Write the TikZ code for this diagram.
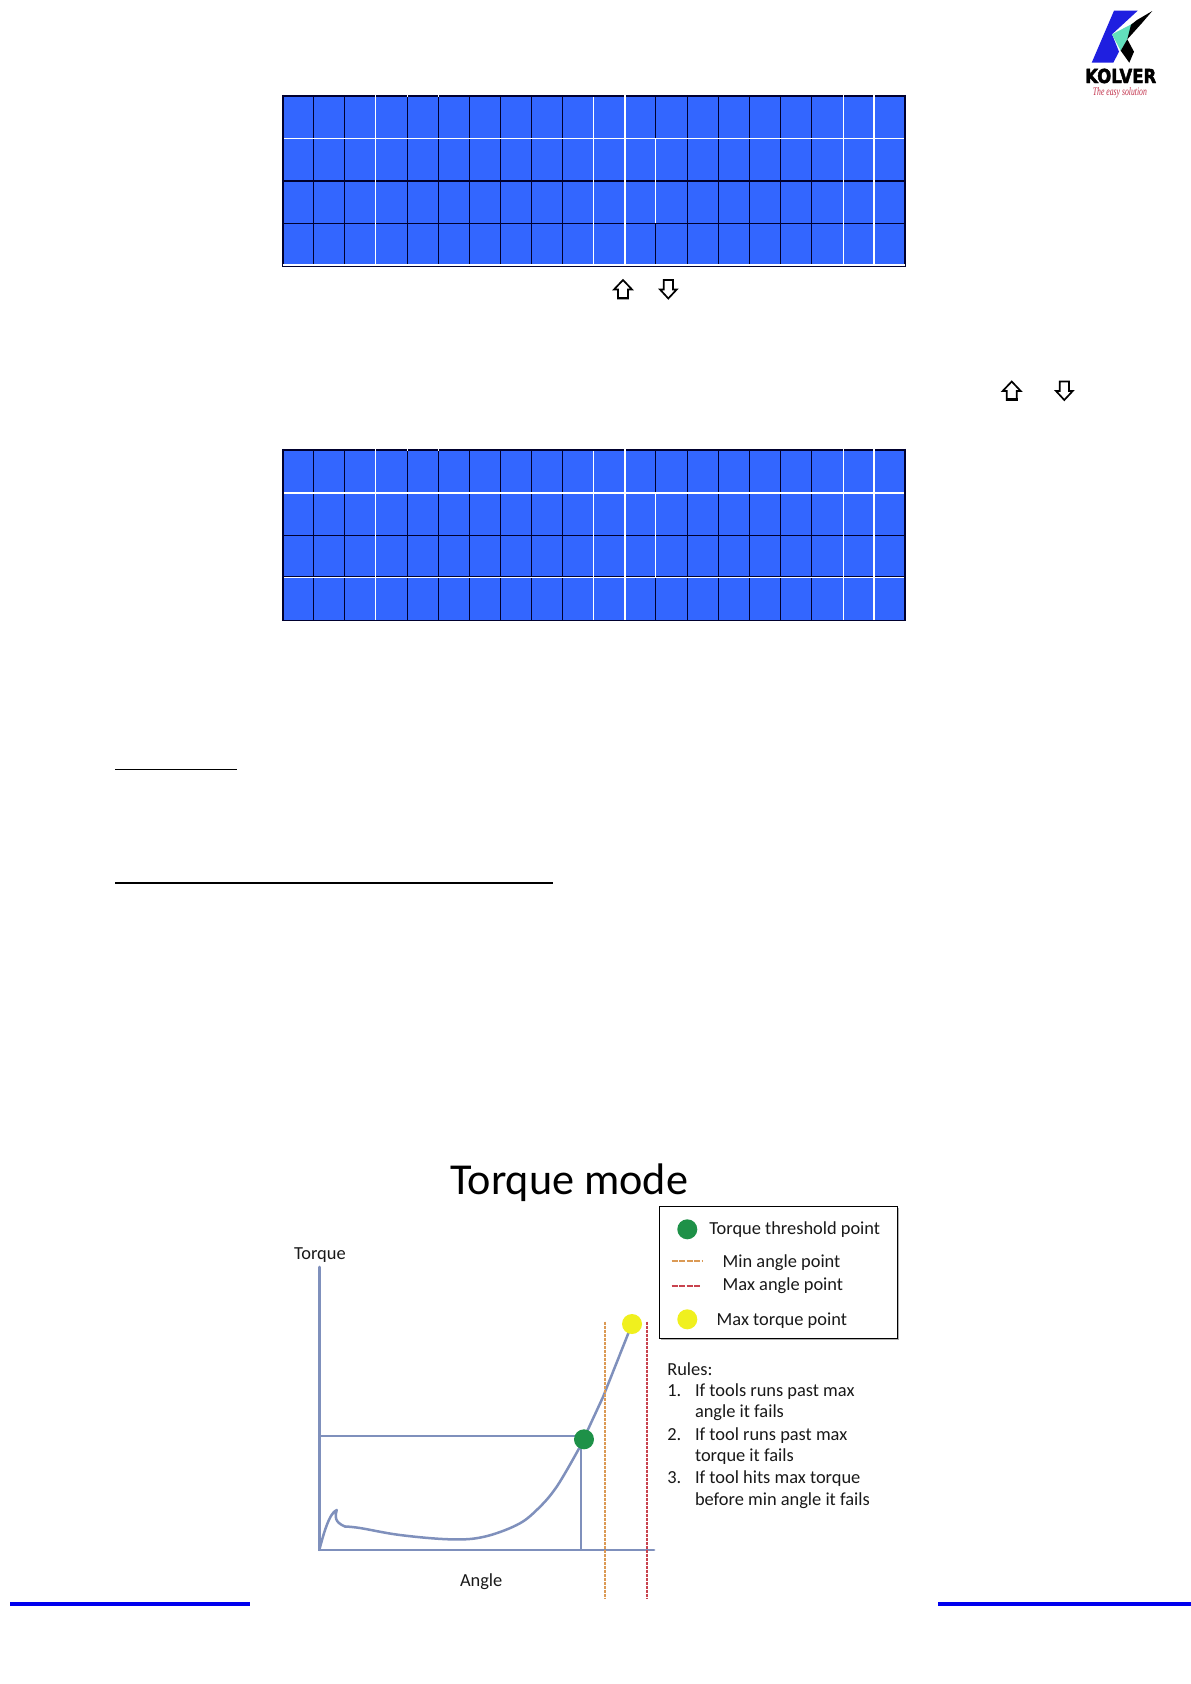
\documentclass[tikz,border=0pt]{standalone}
\usepackage{fontspec}
\usepackage{graphicx}
\setmainfont{Carlito}
\newfontfamily\logofont[BoldFeatures={FakeBold=2.5}]{DejaVu Sans}
\newfontfamily\sloganfont{Liberation Serif}
\definecolor{lcdblue}{HTML}{3366FF}
\definecolor{lcdline}{HTML}{00002E}
\definecolor{axisblue}{HTML}{7F90BC}
\definecolor{dotgreen}{HTML}{1E9148}
\definecolor{dotyellow}{HTML}{F0F01E}
\definecolor{minorange}{HTML}{DB9A55}
\definecolor{maxred}{HTML}{C8434E}
\definecolor{rulerblue}{HTML}{0000EE}
\definecolor{logoblue}{HTML}{1F1FE0}
\definecolor{logoteal}{HTML}{62E0BC}
\definecolor{slogan}{HTML}{C2304A}
\tikzset{
  lcdblack/.style={draw=lcdline,line width=1.1pt},
  lcdwhite/.style={draw=white,line width=1.2pt},
  lcdedge/.style={draw=lcdline,line width=1.8pt},
  arrowmark/.style={draw=black,line width=1.7pt,fill=white,line join=miter},
  axisline/.style={draw=axisblue,line width=2.8pt,line cap=round},
  guideline/.style={draw=axisblue,line width=2pt},
  curveline/.style={draw=axisblue,line width=2.5pt,line join=round,line cap=round},
  mindash/.style={draw=minorange,line width=2.2pt,dash pattern=on 3pt off 1pt},
  maxdash/.style={draw=maxred,line width=2.2pt,dash pattern=on 3pt off 1pt},
  figtext/.style={anchor=base west,inner sep=0pt,outer sep=0pt,font=\fontsize{18.4}{22}\selectfont,text=black!90},
  greendot/.style={circle,fill=dotgreen,inner sep=0pt,minimum size=20pt},
  yellowdot/.style={circle,fill=dotyellow,inner sep=0pt,minimum size=20pt},
  ruler/.style={draw=rulerblue,line width=3.6pt},
  underl/.style={draw=black}
}
\newcommand{\lcdgrid}[7]{%
  \fill[lcdblue] (282.7,#1) rectangle (904.7,#5);
  \foreach \vx in {313.3,344.3,375.7,407.3,438.7,469.7,500.3,531.3,562.3,593.7,625,655.7,687.3,718.3,749.3,780.3,811.3,843.3,874}
    \draw[lcdblack] (\vx,#1) -- (\vx,#5);
  \draw[lcdblack] (282.7,#3) -- (904.7,#3);
  #6
  \foreach \vx in {375.7,593.7,625,843.3,874}
    \draw[lcdwhite] (\vx,#1-1.5) -- (\vx,#5);
  \draw[lcdwhite,line width=.9pt] (655.7,#2) -- (655.7,#4);
  \draw[lcdedge] (282.7,#1) -- (904.7,#1);
  \foreach \vx in {375.7,407.3,438.7,625,843.3,874}
    \draw[lcdwhite] (\vx,#1-1.5) -- (\vx,#1+1);
  \draw[lcdedge] (282.7,#1-.9) -- (282.7,#5+.9);
  \draw[lcdedge,line width=2.2pt] (904.7,#1-.9) -- (904.7,#5+.9);
  #7
}
\newcommand{\uparrowmark}[2]{%
  \draw[arrowmark,shift={(#1,#2)}] (9,0) -- (18,9.5) -- (14,9.5) -- (14,18.5) -- (4,18.5) -- (4,9.5) -- (0,9.5) -- cycle;
  \draw[draw=black,line width=2.4pt,shift={(#1,#2)}] (3.2,18) -- (14.8,18);
}
\newcommand{\downarrowmark}[2]{%
  \draw[arrowmark,shift={(#1,#2)}] (3.7,0) -- (13,0) -- (13,9.5) -- (16.7,9.5) -- (8.3,18.5) -- (0,9.5) -- (3.7,9.5) -- cycle;
}
\begin{document}
\begin{tikzpicture}[x=1pt,y=-1pt]
\useasboundingbox (0,0) rectangle (1191,1684);
\fill[white] (0,0) rectangle (1191,1684);

% logo
\fill[logoblue] (1114,10.7) -- (1137.7,10.7) -- (1112,34.3) -- (1119,51.7) -- (1113.3,62.7) -- (1091.7,62.7) -- cycle;
\fill[logoteal] (1112,34.3) -- (1133.3,23.3) -- (1127.3,39.3) -- (1120.7,50.7) -- cycle;
\fill[black] (1152.3,11) -- (1137,20) -- (1131,24.7) -- (1127.3,39.3) -- (1141.7,23.3) -- cycle;
\fill[black] (1127.3,39.3) -- (1120.7,50.7) -- (1129.3,62.7) -- (1134,51.7) -- cycle;
\node[anchor=base west,inner sep=0pt] (logoname) at (1085,83) {\resizebox{71pt}{14.3pt}{\logofont\bfseries KOLVER}};
\node[anchor=base west,inner sep=0pt,text=slogan] (logoslogan) at (1092.7,95) {\resizebox{54pt}{8pt}{\sloganfont\itshape The easy solution}};

% LCD 1
\lcdgrid{95.7}{138.7}{181}{223.3}{265.7}{%
  \draw[lcdblack] (282.7,223.3) -- (904.7,223.3);
  \draw[lcdwhite] (282.7,138.7) -- (904.7,138.7);
}{%
  \draw[lcdwhite] (282.7,265) -- (904.7,265);
  \draw[lcdline,line width=.8pt] (282.7,266.4) -- (904.7,266.4);
}
\uparrowmark{614}{280}
\downarrowmark{660}{280}
\uparrowmark{1002.7}{381.5}
\downarrowmark{1056}{381.5}

% LCD 2
\lcdgrid{449.7}{493}{535.3}{577.7}{620.2}{%
  \draw[lcdwhite] (282.7,493) -- (904.7,493);
  \draw[lcdwhite] (282.7,577.7) -- (904.7,577.7);
  \draw[lcdline,line width=.7pt] (282.7,576.4) -- (904.7,576.4);
}{%
  \draw[lcdedge,line width=1.3pt] (282.7,620.2) -- (904.7,620.2);
}

% underlines
\coordinate (u1a) at (115,769.3); \coordinate (u1b) at (237,769.3);
\coordinate (u2a) at (115,882.7); \coordinate (u2b) at (552.7,882.7);
\draw[underl,line width=1.2pt] (u1a) -- (u1b);
\draw[underl,line width=2.1pt] (u2a) -- (u2b);

% figure
\node[anchor=base west,inner sep=0pt,font=\fontsize{44.2}{50}\selectfont,text=black] (title) at (450,1194.5) {Torque mode};
\node[figtext] (ylabel) at (294,1259) {Torque};
\node[figtext] (xlabel) at (460,1586.7) {Angle};

\coordinate (origin) at (319.3,1550);
\coordinate (ytop) at (319.3,1267);
\coordinate (xend) at (654,1550);
\draw[guideline] (319.3,1436) -- (584,1436);
\draw[guideline] (581,1445) -- (581,1550);
\draw[axisline] (ytop) -- (origin) -- (xend);
\draw[curveline] (origin) .. controls (323,1536) and (329,1513) .. (336.7,1510)
   .. controls (335,1516) and (334,1522) .. (345,1526.5);
\draw[curveline] plot[smooth,tension=.6] coordinates {(345,1526.5) (360,1528) (400,1535) (450,1539.3) (483,1537) (516.7,1525) (536.7,1510) (556.7,1486.7) (580,1446.7)};
\draw[curveline] (580,1446.7) -- (603,1397) -- (632,1324);
\draw[mindash] (605,1321.7) -- (605,1599);
\draw[maxdash] (647.3,1321.7) -- (647.3,1599);
\node[greendot] (thr) at (584,1439.3) {};
\node[yellowdot] (maxt) at (632,1324) {};

% legend
\fill[black!30] (660.8,1208.2) rectangle (898.8,1339.8);
\draw[black,line width=1.4pt,fill=white] (659.3,1206.7) rectangle (897.3,1338.3);
\node[greendot] (lgreen) at (687.3,1229.3) {};
\node[yellowdot] (lyellow) at (687.3,1319.3) {};
\coordinate (lmina) at (671.7,1261); \coordinate (lminb) at (702.7,1261);
\coordinate (lmaxa) at (671.7,1285.7); \coordinate (lmaxb) at (700.7,1285.7);
\draw[mindash,dash pattern=on 6pt off 1.5pt] (lmina) -- (lminb);
\draw[maxdash,dash pattern=on 6pt off 1.5pt] (lmaxa) -- (lmaxb);
\node[figtext] (l1) at (709.3,1234.3) {Torque threshold point};
\node[figtext] (l2) at (722.7,1267.7) {Min angle point};
\node[figtext] (l3) at (722.7,1290) {Max angle point};
\node[figtext] (l4) at (716.7,1325.7) {Max torque point};

% rules
\node[figtext] (r0) at (667.3,1375) {Rules:};
\node[figtext] (n1) at (667.3,1396.7) {1.};
\node[figtext] (r1a) at (695,1396.7) {If tools runs past max};
\node[figtext] (r1b) at (695,1417.7) {angle it fails};
\node[figtext] (n2) at (667.3,1440) {2.};
\node[figtext] (r2a) at (695,1440) {If tool runs past max};
\node[figtext] (r2b) at (695,1461) {torque it fails};
\node[figtext] (n3) at (667.3,1483.3) {3.};
\node[figtext] (r3a) at (695,1483.3) {If tool hits max torque};
\node[figtext] (r3b) at (695,1505) {before min angle it fails};

% footer rules
\coordinate (fa) at (10,1603.7); \coordinate (fb) at (249.7,1603.7);
\coordinate (fc) at (938,1603.7); \coordinate (fd) at (1191,1603.7);
\draw[ruler] (fa) -- (fb);
\draw[ruler] (fc) -- (fd);
\end{tikzpicture}
\end{document}
